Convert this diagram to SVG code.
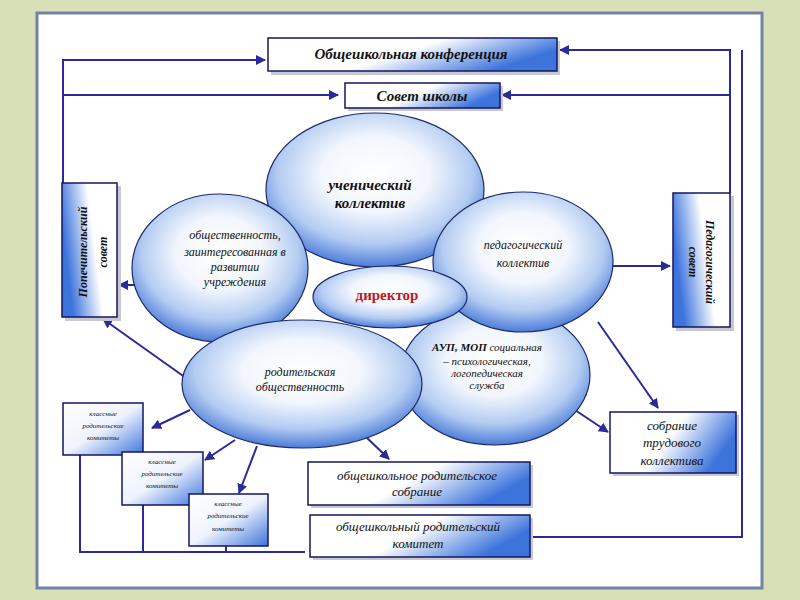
<svg xmlns="http://www.w3.org/2000/svg" width="800" height="600" viewBox="0 0 800 600">
<defs>
<style>
.ln{fill:none;stroke:#2a2a9c;stroke-width:2}
.ar{marker-end:url(#ah)}
.box{stroke:#161660;stroke-width:1.5}
.sh{fill:#c8c8d0}
.ell{fill:url(#eg);stroke:#1e2a66;stroke-width:1.2}
.t{font-family:"Liberation Serif","DejaVu Serif",serif;font-style:italic;fill:#111;text-anchor:middle}
.b{font-weight:bold}
</style>
<linearGradient id="bg" x1="0" y1="0" x2="1" y2="0.35">
<stop offset="0" stop-color="#ffffff"/><stop offset="0.55" stop-color="#ffffff"/><stop offset="1" stop-color="#3d74dc"/>
</linearGradient>
<linearGradient id="bg2" x1="0" y1="0" x2="1" y2="1">
<stop offset="0" stop-color="#ffffff"/><stop offset="0.5" stop-color="#eef3fd"/><stop offset="1" stop-color="#3d74dc"/>
</linearGradient>
<linearGradient id="vg" x1="1" y1="0" x2="0" y2="0.3">
<stop offset="0" stop-color="#ffffff"/><stop offset="0.5" stop-color="#ffffff"/><stop offset="1" stop-color="#3d74dc"/>
</linearGradient>
<radialGradient id="eg" cx="0.5" cy="0.4" r="0.62">
<stop offset="0" stop-color="#ffffff"/><stop offset="0.4" stop-color="#f2f6fd"/><stop offset="0.72" stop-color="#b3ccf2"/><stop offset="1" stop-color="#3f72d6"/>
</radialGradient>
<marker id="ah" viewBox="0 0 10 10" refX="9" refY="5" markerWidth="5" markerHeight="5" orient="auto" markerUnits="strokeWidth">
<path d="M0,0 L10,5 L0,10 z" fill="#2a2a9c"/>
</marker>
</defs>
<rect width="800" height="600" fill="#d8e0b8"/>
<rect x="37" y="13" width="725" height="575" fill="#ffffff" stroke="#7482a8" stroke-width="3"/>

<g id="connectors">
<polyline class="ln ar" points="63,183 63,60 265,60"/>
<polyline class="ln ar" points="63,95 338,95"/>
<polyline class="ln ar" points="730,193 730,50 560,50"/>
<polyline class="ln ar" points="730,95 502,95"/>
<polyline class="ln" points="742,50 742,537 530,537"/>
<polyline class="ln" points="80,455 80,552 305,552"/>
<line class="ln" x1="143" y1="505" x2="143" y2="552"/>
<line class="ln" x1="226" y1="546" x2="226" y2="552"/>
<line class="ln ar" x1="612" y1="266" x2="670" y2="266"/>
<line class="ln ar" x1="134" y1="285" x2="119" y2="285"/>
<line class="ln ar" x1="186" y1="378" x2="103" y2="319"/>
<line class="ln ar" x1="190" y1="410" x2="152" y2="428"/>
<line class="ln ar" x1="235" y1="440" x2="205" y2="460"/>
<line class="ln ar" x1="257" y1="446" x2="239" y2="493"/>
<line class="ln ar" x1="366" y1="437" x2="389" y2="459"/>
<line class="ln ar" x1="572" y1="408" x2="608" y2="432"/>
<line class="ln ar" x1="598" y1="322" x2="658" y2="408"/>
</g>

<g id="n-conf">
<rect class="sh" x="271" y="41" width="289" height="34"/>
<rect class="box" x="268" y="38" width="289" height="33" fill="url(#bg)"/>
<text class="t b" x="411" y="59" font-size="15">Общешкольная конференция</text>
</g>
<g id="n-sovet">
<rect class="sh" x="348" y="86" width="155" height="25"/>
<rect class="box" x="345" y="83" width="155" height="25" fill="url(#bg)"/>
<text class="t b" x="422" y="101" font-size="15">Совет школы</text>
</g>
<g id="n-popech">
<rect class="sh" x="65" y="186" width="56" height="135"/>
<rect class="box" x="62" y="183" width="55" height="134" fill="url(#vg)"/>
<text class="t b" font-size="12" transform="translate(87,252) rotate(-90)">Попечительский</text>
<text class="t b" font-size="12" transform="translate(107,252) rotate(-90)">совет</text>
</g>
<g id="n-pedsovet">
<rect class="sh" x="676" y="196" width="58" height="135"/>
<rect class="box" x="673" y="193" width="57" height="134" fill="url(#vg)"/>
<text class="t b" font-size="12" transform="translate(706,262) rotate(90)">Педагогический</text>
<text class="t b" font-size="12" transform="translate(689,262) rotate(90)">совет</text>
</g>

<g id="n-uchen"><ellipse class="ell" cx="375" cy="190" rx="109" ry="77"/>
<text class="t b" x="370" y="190" font-size="15">ученический</text>
<text class="t b" x="370" y="208" font-size="15">коллектив</text></g>
<g id="n-aup"><ellipse class="ell" cx="495" cy="375" rx="95" ry="70"/>
<text class="t" x="487" y="351" font-size="11"><tspan font-weight="bold">АУП, МОП</tspan> социальная</text>
<text class="t" x="487" y="365" font-size="11">– психологическая,</text>
<text class="t" x="487" y="377" font-size="11">логопедическая</text>
<text class="t" x="487" y="389" font-size="11">служба</text></g>
<g id="n-ped"><ellipse class="ell" cx="523" cy="262" rx="90" ry="70"/>
<text class="t" x="523" y="249" font-size="12">педагогический</text>
<text class="t" x="523" y="267" font-size="12">коллектив</text></g>
<g id="n-obsh"><ellipse class="ell" cx="220" cy="268" rx="88" ry="74"/>
<text class="t" x="235" y="239" font-size="12">общественность,</text>
<text class="t" x="235" y="256" font-size="12">заинтересованная в</text>
<text class="t" x="235" y="271" font-size="12">развитии</text>
<text class="t" x="235" y="286" font-size="12">учреждения</text></g>
<g id="n-rod"><ellipse class="ell" cx="302" cy="384" rx="120" ry="64"/>
<text class="t" x="300" y="376" font-size="12">родительская</text>
<text class="t" x="300" y="391" font-size="12">общественность</text></g>
<g id="n-dir"><ellipse class="ell" cx="390" cy="297" rx="77" ry="31"/>
<text x="387" y="300" font-family="Liberation Serif,DejaVu Serif,serif" font-weight="bold" font-size="15" fill="#c41818" text-anchor="middle">директор</text></g>

<g id="n-k1">
<rect class="box" x="63" y="403" width="80" height="52" fill="url(#bg2)"/>
<text class="t" x="103" y="416" font-size="7">классные</text>
<text class="t" x="103" y="428" font-size="7">родительские</text>
<text class="t" x="103" y="440" font-size="7">комитеты</text>
</g>
<g id="n-k2">
<rect class="box" x="122" y="452" width="81" height="53" fill="url(#bg2)"/>
<text class="t" x="162" y="464" font-size="7">классные</text>
<text class="t" x="162" y="476" font-size="7">родительские</text>
<text class="t" x="162" y="488" font-size="7">комитеты</text>
</g>
<g id="n-k3">
<rect class="box" x="189" y="494" width="79" height="52" fill="url(#bg2)"/>
<text class="t" x="228" y="506" font-size="7">классные</text>
<text class="t" x="228" y="518" font-size="7">родительские</text>
<text class="t" x="228" y="531" font-size="7">комитеты</text>
</g>
<g id="n-sobr">
<rect class="sh" x="311" y="465" width="222" height="43"/>
<rect class="box" x="308" y="462" width="222" height="43" fill="url(#bg)"/>
<text class="t" x="417" y="480" font-size="13">общешкольное родительское</text>
<text class="t" x="417" y="496" font-size="13">собрание</text>
</g>
<g id="n-kom">
<rect class="sh" x="313" y="518" width="220" height="42"/>
<rect class="box" x="310" y="515" width="220" height="42" fill="url(#bg)"/>
<text class="t" x="418" y="531" font-size="13">общешкольный родительский</text>
<text class="t" x="418" y="548" font-size="13">комитет</text>
</g>
<g id="n-trud">
<rect class="sh" x="613" y="415" width="126" height="61"/>
<rect class="box" x="610" y="412" width="126" height="61" fill="url(#bg)"/>
<text class="t" x="672" y="430" font-size="13">собрание</text>
<text class="t" x="672" y="447" font-size="13">трудового</text>
<text class="t" x="672" y="465" font-size="13">коллектива</text>
</g>
</svg>
